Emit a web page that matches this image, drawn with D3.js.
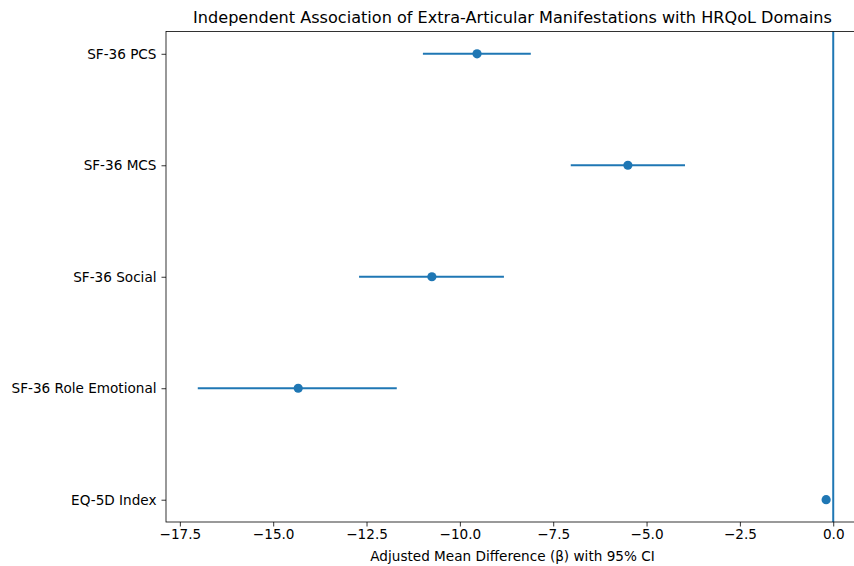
<!DOCTYPE html>
<html>
<head>
<meta charset="utf-8">
<script src="https://cdn.jsdelivr.net/npm/d3@7"></script>
<style>
  body { margin: 0; background: #fff; }
  svg { display: block; font-family: "DejaVu Sans", sans-serif; }
</style>
</head>
<body>
<svg id="chart" width="854" height="566"></svg>
<script>
const outcomes = ["SF-36 PCS", "SF-36 MCS", "SF-36 Social", "SF-36 Role Emotional", "EQ-5D Index"];
const beta = [-9.54, -5.50, -10.75, -14.33, -0.19];
const ciLow = [-10.99, -7.03, -12.70, -17.02, -0.26];
const ciHigh = [-8.10, -3.97, -8.82, -11.69, -0.12];
const xTicks = [-17.5, -15.0, -12.5, -10.0, -7.5, -5.0, -2.5, 0.0];

const data = outcomes.map((name, i) => ({ name, i, b: beta[i], lo: ciLow[i], hi: ciHigh[i] }));

let svg = d3.select("#chart");
let margin = { top: 31.5, left: 166, right: -11, bottom: 44 };
let width = 854 - margin.left - margin.right;
let height = 566 - margin.top - margin.bottom;
let color = "#1f77b4";

let g = svg.append("g").attr("transform", `translate(${margin.left},${margin.top})`);

let xMin = d3.min(ciLow), xMax = 0;
let pad = (xMax - xMin) * 0.05;
let x = d3.scaleLinear().domain([xMin - pad, xMax + pad]).range([0, width]);
let y = d3.scaleLinear().domain([-0.2, outcomes.length - 1 + 0.2]).range([0, height]);

// vertical line at zero
g.append("line")
  .attr("x1", x(0)).attr("x2", x(0))
  .attr("y1", 0).attr("y2", height)
  .attr("stroke", color).attr("stroke-width", 2);

// confidence intervals
g.selectAll(".ci")
  .data(data)
  .enter()
  .append("line")
  .attr("class", "ci")
  .attr("x1", (d) => x(d.lo))
  .attr("x2", (d) => x(d.hi))
  .attr("y1", (d) => y(d.i))
  .attr("y2", (d) => y(d.i))
  .attr("stroke", color)
  .attr("stroke-width", 2);

g.selectAll(".pt")
  .data(data)
  .enter()
  .append("circle")
  .attr("class", "pt")
  .attr("cx", (d) => x(d.b))
  .attr("cy", (d) => y(d.i))
  .attr("r", 4.6)
  .attr("fill", color);

// axes
let xAxis = g.append("g")
  .attr("transform", `translate(0,${height})`)
  .call(d3.axisBottom(x).tickValues(xTicks).tickSize(4.5).tickPadding(3)
    .tickFormat((d) => d3.format(".1f")(d).replace("-", "\u2212")));
let yAxis = g.append("g")
  .call(d3.axisLeft(y).tickValues(d3.range(outcomes.length)).tickSize(4.5).tickPadding(5)
    .tickFormat((d) => outcomes[d]));

[xAxis, yAxis].forEach((a) => {
  a.select(".domain").remove();
  a.selectAll("text").attr("font-size", 13.6).attr("fill", "#000").attr("font-family", "DejaVu Sans");
  a.selectAll("line").attr("stroke", "#000").attr("stroke-width", 0.8);
});

// frame
g.append("rect")
  .attr("x", 0).attr("y", 0)
  .attr("width", width).attr("height", height)
  .attr("fill", "none").attr("stroke", "#000").attr("stroke-width", 0.8);

svg.append("text")
  .attr("x", margin.left + width / 2 - 3)
  .attr("y", 23)
  .attr("text-anchor", "middle")
  .attr("font-size", 16.1)
  .text("Independent Association of Extra-Articular Manifestations with HRQoL Domains");

svg.append("text")
  .attr("x", margin.left + width / 2 - 3)
  .attr("y", 561)
  .attr("text-anchor", "middle")
  .attr("font-size", 13.6)
  .text("Adjusted Mean Difference (\u03b2) with 95% CI");
</script>
</body>
</html>
